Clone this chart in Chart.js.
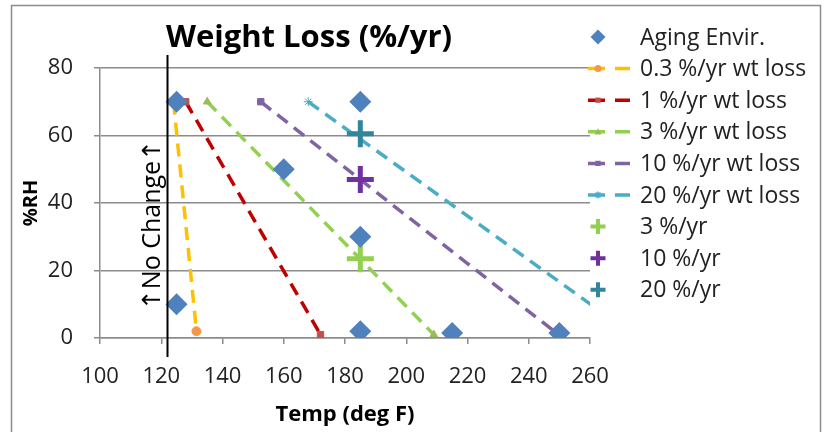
<!DOCTYPE html>
<html>
<head>
<meta charset="utf-8">
<script src="https://cdn.jsdelivr.net/npm/chart.js"></script>
<style>
  body { margin: 0; background: #fff; }
  canvas { display: block; }
</style>
</head>
<body>
<canvas id="chart" width="825" height="432"></canvas>
<script>
// Aging environment points (temp deg F, %RH)
const agingTemp = [125, 125, 160, 185, 185, 185, 215, 250];
const agingRH = [70, 10, 50, 70, 30, 2, 1.5, 1.5];

// constant weight loss lines, from 70 %RH down to near 0
const lossLabels = ['0.3 %/yr wt loss', '1 %/yr wt loss', '3 %/yr wt loss', '10 %/yr wt loss', '20 %/yr wt loss'];
const lossTemp = [[124, 131.5], [128, 172], [135, 209], [152.5, 249], [168, 274]];
const lossRH = [[70, 2], [70, 1], [70, 1], [70, 1.5], [70, 1]];

// measured rates at 185 F
const rateLabels = ['3 %/yr', '10 %/yr', '20 %/yr'];
const rateTemp = [185, 185, 185];
const rateRH = [23.5, 47, 60.5];

const noChangeTemp = 122;
const xTicks = [100, 120, 140, 160, 180, 200, 220, 240, 260];
const yTicks = [0, 20, 40, 60, 80];

const lineColors = ['#FFC000', '#C00000', '#92D050', '#8064A2', '#4BACC6'];
const lineMarkColors = ['#F79646', '#C0504D', '#9BBB59', '#8064A2', '#4BACC6'];
const lineMarks = ['circle', 'rect', 'triangle', 'rect', 'star'];
const rateColors = ['#92D050', '#7030A0', '#31859C'];

const FONT = "'Open Sans', 'DejaVu Sans', sans-serif";

const datasets = [];
datasets.push({
  label: 'Aging Envir.',
  data: agingTemp.map((t, i) => ({ x: t, y: agingRH[i] })),
  pointStyle: 'rectRot',
  pointRadius: 11,
  pointBackgroundColor: '#4F81BD',
  pointBorderColor: '#4F81BD',
  pointBorderWidth: 0,
  showLine: false,
  order: 0
});
lossLabels.forEach((lab, k) => {
  datasets.push({
    label: lab,
    data: lossTemp[k].map((t, i) => ({ x: t, y: lossRH[k][i] })),
    showLine: true,
    borderColor: lineColors[k],
    borderWidth: 3.5,
    borderDash: [13, 8],
    pointStyle: lineMarks[k],
    pointRadius: 4.5,
    pointBackgroundColor: lineMarkColors[k],
    pointBorderColor: lineMarkColors[k],
    pointBorderWidth: 1,
    order: 5
  });
});
rateLabels.forEach((lab, k) => {
  datasets.push({
    label: lab,
    data: [{ x: rateTemp[k], y: rateRH[k] }],
    showLine: false,
    pointStyle: 'cross',
    pointRadius: 13.5,
    pointBackgroundColor: rateColors[k],
    pointBorderColor: rateColors[k],
    pointBorderWidth: 5,
    order: 1
  });
});

function marker(ctx, style, x, y, r) {
  ctx.beginPath();
  if (style === 'rectRot') {
    ctx.moveTo(x - r, y); ctx.lineTo(x, y - r); ctx.lineTo(x + r, y); ctx.lineTo(x, y + r);
    ctx.closePath(); ctx.fill();
  } else if (style === 'circle') {
    ctx.arc(x, y, r, 0, Math.PI * 2); ctx.fill();
  } else if (style === 'rect') {
    const s = r * 0.75;
    ctx.rect(x - s, y - s, 2 * s, 2 * s); ctx.fill();
  } else if (style === 'triangle') {
    ctx.moveTo(x, y - r); ctx.lineTo(x + r, y + r * 0.8); ctx.lineTo(x - r, y + r * 0.8);
    ctx.closePath(); ctx.fill();
  } else if (style === 'star') {
    ctx.lineWidth = 1.5;
    ctx.moveTo(x - r, y); ctx.lineTo(x + r, y);
    ctx.moveTo(x, y - r); ctx.lineTo(x, y + r);
    ctx.moveTo(x - r * 0.7, y - r * 0.7); ctx.lineTo(x + r * 0.7, y + r * 0.7);
    ctx.moveTo(x - r * 0.7, y + r * 0.7); ctx.lineTo(x + r * 0.7, y - r * 0.7);
    ctx.stroke();
  } else if (style === 'cross') {
    ctx.moveTo(x - r, y); ctx.lineTo(x + r, y);
    ctx.moveTo(x, y - r); ctx.lineTo(x, y + r);
    ctx.stroke();
  }
}

const extras = {
  id: 'extras',
  beforeDraw(chart) {
    const ctx = chart.ctx;
    ctx.save();
    ctx.strokeStyle = '#8c8c8c';
    ctx.lineWidth = 1.5;
    ctx.strokeRect(11.5, 5.5, 809, 440);
    ctx.restore();
  },
  afterDatasetsDraw(chart) {
    const ctx = chart.ctx;
    const a = chart.chartArea;
    const px = Math.round(chart.scales.x.getPixelForValue(noChangeTemp)) + 0.5;
    ctx.save();
    ctx.strokeStyle = '#000';
    ctx.lineWidth = 2;
    ctx.beginPath();
    ctx.moveTo(px, a.top - 13);
    ctx.lineTo(px, a.bottom + 19);
    ctx.stroke();
    // rotated note
    ctx.translate(px - 15, 225);
    ctx.rotate(-Math.PI / 2);
    ctx.fillStyle = '#000';
    ctx.font = '25px ' + FONT;
    ctx.textAlign = 'center';
    ctx.textBaseline = 'middle';
    ctx.fillText('\u2191No Change\u2191', 0, 0);
    ctx.restore();
  },
  afterDraw(chart) {
    const ctx = chart.ctx;
    ctx.save();
    // title
    ctx.fillStyle = '#000';
    ctx.font = 'bold 31px ' + FONT;
    ctx.textAlign = 'center';
    ctx.textBaseline = 'middle';
    ctx.fillText('Weight Loss (%/yr)', 309, 38);
    // legend
    ctx.font = '23px ' + FONT;
    ctx.textAlign = 'left';
    chart.data.datasets.forEach((ds, i) => {
      const y = 37 + i * 31.6;
      if (ds.showLine) {
        ctx.strokeStyle = ds.borderColor;
        ctx.lineWidth = 3.5;
        ctx.beginPath();
        ctx.moveTo(588, y); ctx.lineTo(605, y);
        ctx.moveTo(615, y); ctx.lineTo(630, y);
        ctx.stroke();
      }
      ctx.fillStyle = ds.pointBackgroundColor;
      ctx.strokeStyle = ds.pointBorderColor;
      if (ds.pointStyle === 'cross') {
        ctx.lineWidth = 4;
        marker(ctx, 'cross', 598, y, 7.5);
      } else if (ds.pointStyle === 'rectRot') {
        marker(ctx, 'rectRot', 598, y, 7.5);
      } else {
        marker(ctx, ds.pointStyle, 598, y, 3.5);
      }
      ctx.fillStyle = '#222';
      ctx.fillText(ds.label, 640, y + 1);
    });
    ctx.restore();
  }
};

window.addEventListener('load', function () {
  new Chart(document.getElementById('chart'), {
    type: 'scatter',
    data: { datasets: datasets },
    options: {
      responsive: false,
      animation: false,
      layout: { padding: { left: 12, right: 235, top: 68, bottom: 0 } },
      plugins: {
        legend: { display: false },
        title: { display: false },
        tooltip: { enabled: false }
      },
      scales: {
        x: {
          type: 'linear',
          min: xTicks[0],
          max: xTicks[xTicks.length - 1],
          afterBuildTicks: s => { s.ticks = xTicks.map(v => ({ value: v })); },
          afterFit: s => { s.height = 94; },
          grid: { drawOnChartArea: false, tickLength: 6, color: '#8c8c8c', lineWidth: 1.5 },
          border: { color: '#8c8c8c', width: 1.5 },
          ticks: { color: '#222', font: { family: FONT, size: 22 }, padding: 20, maxRotation: 0 },
          title: {
            display: true,
            text: 'Temp (deg F)',
            color: '#000',
            font: { family: FONT, size: 22, weight: 'bold' },
            padding: { top: 0, bottom: 4 }
          }
        },
        y: {
          min: yTicks[0],
          max: yTicks[yTicks.length - 1],
          afterBuildTicks: s => { s.ticks = yTicks.map(v => ({ value: v })); },
          afterFit: s => { s.width = 88; },
          grid: { tickLength: 6, color: '#8c8c8c', lineWidth: 1.5 },
          border: { color: '#8c8c8c', width: 1.5 },
          ticks: { color: '#222', font: { family: FONT, size: 22 }, padding: 21 },
          title: {
            display: true,
            text: '%RH',
            color: '#000',
            font: { family: FONT, size: 20, weight: 'bold' },
            padding: { top: 7, bottom: 0 }
          }
        }
      }
    },
    plugins: [extras]
  });
});
</script>
</body>
</html>
